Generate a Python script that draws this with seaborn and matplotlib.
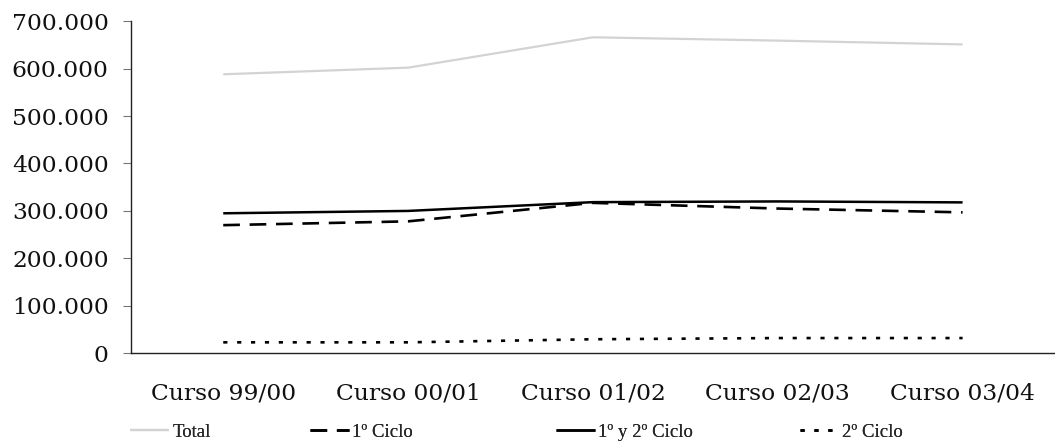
import pandas as pd
import matplotlib

matplotlib.use('Agg')

import matplotlib.pyplot as plt
import matplotlib.ticker as mticker
import seaborn as sns

#Data (alumnos por curso)
cursos = ["Curso 99/00", "Curso 00/01", "Curso 01/02", "Curso 02/03", "Curso 03/04"]
total = [588000, 602000, 666000, 659000, 651000]
ciclo1 = [270000, 278000, 317000, 305000, 297000]
ciclo12 = [295000, 300000, 318500, 320000, 318000]
ciclo2 = [23000, 23000, 29500, 32000, 32000]

series_names = ["Total", "1º Ciclo", "1º y 2º Ciclo", "2º Ciclo"]
series_values = [total, ciclo1, ciclo12, ciclo2]

sns.set_style('ticks')
plt.rcParams['font.family'] = ['DejaVu Serif']
plt.rcParams['lines.scale_dashes'] = False

#Styles
colors = {"Total": "#d3d3d3", "1º Ciclo": "black", "1º y 2º Ciclo": "black", "2º Ciclo": "black"}
widths = {"Total": 1.6, "1º Ciclo": 1.9, "1º y 2º Ciclo": 1.8, "2º Ciclo": 1.9}
dashes = {"Total": (None, None), "1º Ciclo": (0, (12, 7)), "1º y 2º Ciclo": (None, None), "2º Ciclo": (0, (3, 7))}

fig = plt.figure(figsize=(10.55, 4.41), dpi=100)
ax = fig.add_axes([0.124, 0.199, 0.876, 0.753])

lines = []
for name, vals in zip(series_names, series_values):
    df = pd.DataFrame({'curso': cursos, 'alumnos': vals})
    sns.lineplot(data=df, x='curso', y='alumnos', ax=ax, sort=False, errorbar=None,
                 color=colors[name], linewidth=widths[name])
    ln = ax.lines[-1]
    if dashes[name][0] is not None:
        ln.set_linestyle(dashes[name])
    ln.set_dash_capstyle('butt')
    ln.set_solid_capstyle('butt')
    lines.append(ln)

ax.set_xlim(-0.5, 4.5)
ax.set_ylim(0, 700000)
ax.set_yticks(range(0, 700001, 100000))
ax.yaxis.set_major_formatter(mticker.FuncFormatter(lambda v, p: f"{int(v):,}".replace(',', '.')))
ax.set_xlabel('')
ax.set_ylabel('')

sns.despine(ax=ax)
for s in ['left', 'bottom']:
    ax.spines[s].set_color('#222222')
    ax.spines[s].set_linewidth(1.0)

ax.tick_params(axis='y', length=6, width=0.8, color='#777777', pad=10, labelsize=16.8, labelcolor='#111111')
ax.tick_params(axis='x', length=0, pad=21, labelsize=16.8, labelcolor='#111111')

#Legend, one entry at a time so positions match
leg_x = [130, 310, 556, 800]
for ln, name, x in zip(lines, series_names, leg_x):
    leg = fig.legend([ln], [name], loc='center left', bbox_to_anchor=(x / 1055, 1 - 432 / 441),
                     frameon=False, borderpad=0, borderaxespad=0, handlelength=2.1,
                     handletextpad=0.15, prop={'family': 'Liberation Serif', 'size': 13.5})
    fig.add_artist(leg)

fig.savefig('out.png', dpi=100)
plt.close('all')
